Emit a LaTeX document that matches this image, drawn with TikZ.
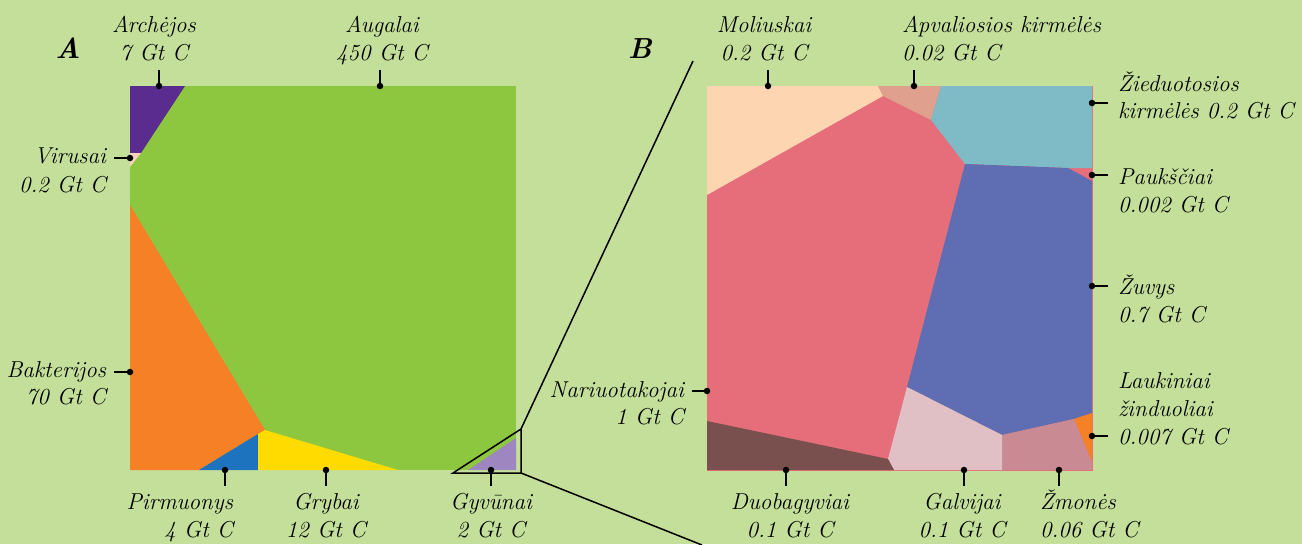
\documentclass[tikz,border=0pt]{standalone}
\usepackage{fontspec}
\definecolor{bg}{HTML}{C4DF9A}
\definecolor{plant}{HTML}{8DC63F}
\definecolor{arch}{HTML}{5B2C8F}
\definecolor{virus}{HTML}{F9D2BE}
\definecolor{bact}{HTML}{F58025}
\definecolor{prot}{HTML}{1E73BE}
\definecolor{fungi}{HTML}{FFDB00}
\definecolor{anim}{HTML}{9E86C0}
\definecolor{moll}{HTML}{FDD5B1}
\definecolor{nema}{HTML}{DFA08D}
\definecolor{anne}{HTML}{7FBBC6}
\definecolor{arth}{HTML}{E66D7A}
\definecolor{fish}{HTML}{5F6EB2}
\definecolor{wild}{HTML}{F58025}
\definecolor{human}{HTML}{C98A94}
\definecolor{cattle}{HTML}{E0C0C4}
\definecolor{cnid}{HTML}{7A504E}
\begin{document}
\begin{tikzpicture}[x=1pt,y=-1pt,
  lbl/.style={font=\itshape\fontsize{23}{28}\selectfont, inner sep=0pt, outer sep=0pt},
  panel/.style={font=\bfseries\itshape\fontsize{29}{32}\selectfont, inner sep=0pt},
  dot/.style={circle, fill=black, inner sep=0pt, minimum size=6.5pt},
  leader/.style={draw=black, line width=1.6pt},
  zoomline/.style={draw=black, line width=1.5pt, line join=miter}]
\useasboundingbox (0,0) rectangle (1302,544);
\fill[bg] (0,0) rectangle (1302,544);

% ---------- Panel A ----------
\fill[plant] (130,86) rectangle (516,470);
\fill[arch] (130,86) -- (185,86) -- (141,153) -- (130,153) -- cycle;
\fill[virus] (130,153) -- (141,153) -- (130,167) -- cycle;
\fill[bact] (130,205) -- (265,430) -- (258,434) -- (199,470) -- (130,470) -- cycle;
\fill[prot] (199,470) -- (258,434) -- (258,470) -- cycle;
\fill[fungi] (258,434) -- (265,430) -- (398,470) -- (258,470) -- cycle;
\fill[anim] (468,470) -- (516,438) -- (516,470) -- cycle;
\coordinate (zt) at (521,429);
\coordinate (zb) at (521,473);
\coordinate (zl) at (453,473);
\draw[zoomline] (zl) -- (zb) -- (zt) -- cycle;
\coordinate (zt2) at (693,61);
\coordinate (zb2) at (702,545);
\draw[zoomline] (zt) -- (zt2);
\draw[zoomline] (zb) -- (zb2);

% ---------- Panel B ----------
\fill[arth] (707,86) rectangle (1093,471);
\fill[moll] (707,86) -- (878,86) -- (883,96) -- (707,195) -- cycle;
\fill[nema] (878,86) -- (941,86) -- (931,120) -- (883,96) -- cycle;
\fill[anne] (941,86) -- (1092,86) -- (1092,168) -- (1068,168) -- (965,164) -- (931,120) -- cycle;
\fill[fish] (965,164) -- (1068,168) -- (1092,181) -- (1092,413) -- (1074,419) -- (1002,435) -- (907,387) -- cycle;
\fill[wild] (1074,419) -- (1092,413) -- (1092,462) -- cycle;
\fill[human] (1002,435) -- (1074,419) -- (1092,462) -- (1092,470) -- (1002,470) -- cycle;
\fill[cattle] (907,387) -- (1002,435) -- (1002,470) -- (894,470) -- (888,459) -- cycle;
\fill[cnid] (707,421) -- (888,459) -- (894,470) -- (707,470) -- cycle;

% ---------- Panel letters ----------
\node[panel, anchor=base] (labA) at (68,58) {A};
\node[panel, anchor=base] (labB) at (640,58) {B};

% ---------- Labels panel A ----------
\node[lbl, anchor=base] (arch1) at (154,32) {Archėjos};
\node[lbl, anchor=base] (arch2) at (154,60) {7 Gt C};
\node[dot] (archD) at (159,86) {};
\coordinate (archE) at (159,70);
\draw[leader] (archD.center) -- (archE);

\node[lbl, anchor=base] (plant1) at (382,32) {Augalai};
\node[lbl, anchor=base] (plant2) at (382,60) {450 Gt C};
\node[dot] (plantD) at (380,86) {};
\coordinate (plantE) at (380,70);
\draw[leader] (plantD.center) -- (plantE);

\node[lbl, anchor=base east] (vir1) at (106,163) {Virusai};
\node[lbl, anchor=base east] (vir2) at (106,192) {0.2 Gt C};
\node[dot] (virD) at (130,158) {};
\coordinate (virE) at (114,158);
\draw[leader] (virD.center) -- (virE);

\node[lbl, anchor=base east] (bac1) at (106,377) {Bakterijos};
\node[lbl, anchor=base east] (bac2) at (106,404) {70 Gt C};
\node[dot] (bacD) at (130,372) {};
\coordinate (bacE) at (114,372);
\draw[leader] (bacD.center) -- (bacE);

\node[lbl, anchor=base east] (pro1) at (233,509) {Pirmuonys};
\node[lbl, anchor=base east] (pro2) at (233,537) {4 Gt C};
\node[dot] (proD) at (225,470) {};
\coordinate (proE) at (225,486);
\draw[leader] (proD.center) -- (proE);

\node[lbl, anchor=base] (fun1) at (326,509) {Grybai};
\node[lbl, anchor=base] (fun2) at (326,537) {12 Gt C};
\node[dot] (funD) at (326,470) {};
\coordinate (funE) at (326,486);
\draw[leader] (funD.center) -- (funE);

\node[lbl, anchor=base] (ani1) at (491,509) {Gyvūnai};
\node[lbl, anchor=base] (ani2) at (491,537) {2 Gt C};
\node[dot] (aniD) at (491,470) {};
\coordinate (aniE) at (491,486);
\draw[leader] (aniD.center) -- (aniE);

% ---------- Labels panel B ----------
\node[lbl, anchor=base] (mol1) at (764,32) {Moliuskai};
\node[lbl, anchor=base] (mol2) at (764,60) {0.2 Gt C};
\node[dot] (molD) at (768,86) {};
\coordinate (molE) at (768,70);
\draw[leader] (molD.center) -- (molE);

\node[lbl, anchor=base west] (nem1) at (902,32) {Apvaliosios kirmėlės};
\node[lbl, anchor=base west] (nem2) at (902,60) {0.02 Gt C};
\node[dot] (nemD) at (914,86) {};
\coordinate (nemE) at (914,70);
\draw[leader] (nemD.center) -- (nemE);

\node[lbl, anchor=base west] (ann1) at (1118,91) {Žieduotosios};
\node[lbl, anchor=base west] (ann2) at (1118,118) {kirmėlės 0.2 Gt C};
\node[dot] (annD) at (1092,103) {};
\coordinate (annE) at (1108,103);
\draw[leader] (annD.center) -- (annE);

\node[lbl, anchor=base west] (bir1) at (1118,184) {Paukščiai};
\node[lbl, anchor=base west] (bir2) at (1118,212) {0.002 Gt C};
\node[dot] (birD) at (1092,175) {};
\coordinate (birE) at (1108,175);
\draw[leader] (birD.center) -- (birE);

\node[lbl, anchor=base west] (fis1) at (1118,294) {Žuvys};
\node[lbl, anchor=base west] (fis2) at (1118,322) {0.7 Gt C};
\node[dot] (fisD) at (1092,286) {};
\coordinate (fisE) at (1108,286);
\draw[leader] (fisD.center) -- (fisE);

\node[lbl, anchor=base west] (wil1) at (1118,388) {Laukiniai};
\node[lbl, anchor=base west] (wil2) at (1118,416) {žinduoliai};
\node[lbl, anchor=base west] (wil3) at (1118,444) {0.007 Gt C};
\node[dot] (wilD) at (1092,436) {};
\coordinate (wilE) at (1108,436);
\draw[leader] (wilD.center) -- (wilE);

\node[lbl, anchor=base east] (art1) at (684,397) {Nariuotakojai};
\node[lbl, anchor=base east] (art2) at (684,424) {1 Gt C};
\node[dot] (artD) at (707,391) {};
\coordinate (artE) at (692,391);
\draw[leader] (artD.center) -- (artE);

\node[lbl, anchor=base] (cni1) at (790,509) {Duobagyviai};
\node[lbl, anchor=base] (cni2) at (790,537) {0.1 Gt C};
\node[dot] (cniD) at (786,470) {};
\coordinate (cniE) at (786,486);
\draw[leader] (cniD.center) -- (cniE);

\node[lbl, anchor=base] (cat1) at (962,509) {Galvijai};
\node[lbl, anchor=base] (cat2) at (962,537) {0.1 Gt C};
\node[dot] (catD) at (964,470) {};
\coordinate (catE) at (964,486);
\draw[leader] (catD.center) -- (catE);

\node[lbl, anchor=base west] (hum1) at (1040,509) {Žmonės};
\node[lbl, anchor=base west] (hum2) at (1040,537) {0.06 Gt C};
\node[dot] (humD) at (1059,470) {};
\coordinate (humE) at (1059,486);
\draw[leader] (humD.center) -- (humE);
\end{tikzpicture}
\end{document}
